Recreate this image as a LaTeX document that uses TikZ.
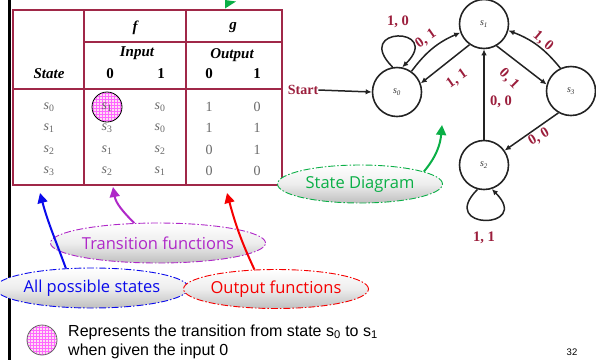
\documentclass[tikz,border=0pt]{standalone}
\usepackage{fontspec}
\setmainfont{Liberation Serif}
\newfontfamily\arialfont{Liberation Sans}
\newfontfamily\handfont{Open Sans}
\usetikzlibrary{shapes.geometric,arrows.meta,patterns}
\definecolor{tblred}{RGB}{160,40,72}
\definecolor{lblred}{RGB}{155,30,60}
\definecolor{sdgreen}{RGB}{10,175,70}
\definecolor{tfpurple}{RGB}{175,40,200}
\definecolor{apblue}{RGB}{10,10,235}
\definecolor{ofred}{RGB}{245,0,0}
\definecolor{edgegray}{RGB}{35,35,35}
\definecolor{cellgray}{RGB}{105,105,105}
\tikzset{
  tblline/.style={draw=tblred, line width=1.8pt},
  head/.style={font=\bfseries\itshape\fontsize{15}{15}\selectfont, inner sep=0pt},
  headnum/.style={font=\bfseries\fontsize{15}{15}\selectfont, inner sep=0pt},
  cell/.style={font=\fontsize{14}{14}\selectfont, text=cellgray, inner sep=0pt},
  state/.style={circle, draw=edgegray, line width=1.6pt, minimum size=49pt, inner sep=0pt,
    font=\itshape\fontsize{10}{10}\selectfont, text=black!80},
  edge/.style={draw=edgegray, line width=1.5pt, -{Latex[length=6pt,width=5.5pt]}},
  lbl/.style={text=lblred, font=\bfseries\fontsize{14.5}{14.5}\selectfont, inner sep=0pt},
  callout/.style={ellipse, draw=#1, dash pattern=on 7pt off 2pt on 1.5pt off 2pt,
    line width=0.9pt, top color=white, bottom color=gray!50, middle color=gray!14,
    text=#1, inner sep=0pt, font=\handfont\fontsize{16.5}{16.5}\selectfont},
  pointer/.style={draw=#1, line width=2pt, -{Triangle[length=10pt,width=10pt]}},
  pinkdot/.style={pattern=grid, pattern color=magenta!60}
}
\begin{document}
\begin{tikzpicture}[x=1pt,y=1pt]
\useasboundingbox (0,0) rectangle (596,-360);

% left margin rule
\draw[line width=3pt] (9,0) -- (9,-360);

% arrow tip entering from above the table
\fill[sdgreen] (225,0) -- (225,-8.5) -- (236,-1.5) -- cycle;

% ---------- state table ----------
\draw[tblline] (13,-10) rectangle (282,-185);
\draw[tblline] (84,-10) -- (84,-185);
\draw[tblline] (186,-10) -- (186,-185);
\draw[tblline] (84,-42) -- (282,-42);
\draw[tblline] (13,-89) -- (282,-89);

\node[head] (hf) at (135,-28) {f};
\node[head] (hg) at (233,-28) {g};
\node[head] (hin) at (137,-53) {Input};
\node[head] (hout) at (232,-55) {Output};
\node[head] (hst) at (49,-74) {State};
\node[headnum] (hi0) at (110,-74) {0};
\node[headnum] (hi1) at (161,-74) {1};
\node[headnum] (ho0) at (209,-74) {0};
\node[headnum] (ho1) at (257,-74) {1};

% highlighted entry f(s0,0)
\fill[magenta!12] (107,-107) circle (15);
\fill[pinkdot] (107,-107) circle (15);
\draw[black, line width=0.8pt] (107,-107) circle (15);

\foreach \r/\y/\a/\b/\c/\d/\e in {0/-107/0/1/0/1/0, 1/-128/1/3/0/1/1,
                                    2/-150/2/1/2/0/1, 3/-171/3/2/1/0/0} {
  \node[cell] (st\r) at (49,\y) {\textit{s}\textsubscript{\a}};
  \node[cell] (fa\r) at (107,\y) {\textit{s}\textsubscript{\b}};
  \node[cell] (fb\r) at (160,\y) {\textit{s}\textsubscript{\c}};
  \node[cell] (ga\r) at (209,\y) {\d};
  \node[cell] (gb\r) at (257,\y) {\e};
}

% ---------- state diagram ----------
\node[state] (s0) at (397,-92) {s\textsubscript{0}};
\node[state] (s1) at (484,-24) {s\textsubscript{1}};
\node[state] (s3) at (571,-91) {s\textsubscript{3}};
\node[state] (s2) at (484,-165) {s\textsubscript{2}};

\node[text=lblred, font=\bfseries\fontsize{14}{14}\selectfont, inner sep=0pt] (start) at (303,-90) {Start};
\draw[edge] (start.east) -- (s0.west);

\draw[edge] (s0.100) .. controls +(135:58) and +(45:58) .. (s0.78);
\draw[edge] (s0.55) to[bend left=15] (s1.200);
\draw[edge] (s1.235) -- (s0.20);
\draw[edge] (s3.115) to[bend right=15] (s1.-15);
\draw[edge] (s1.-60) -- (s3.165);
\draw[edge] (s2.north) -- (s1.south);
\draw[edge] (s3.-120) -- (s2.35);
\draw[edge] (s2.-105) .. controls +(-135:58) and +(-45:58) .. (s2.-72);

\node[lbl] (l00) at (398,-22) {1, 0};
\node[lbl, rotate=35] (l01) at (426,-39) {0, 1};
\node[lbl, rotate=35] (l10) at (457,-79) {1, 1};
\node[lbl, rotate=-40] (l31) at (543,-41) {1, 0};
\node[lbl, rotate=-45] (l13) at (509,-79) {0, 1};
\node[lbl] (l21) at (501,-102) {0, 0};
\node[lbl, rotate=30] (l32) at (539,-137) {0, 0};
\node[lbl] (l22) at (484,-238) {1, 1};

% ---------- callouts ----------
\node[callout=sdgreen, minimum width=165pt, minimum height=38pt] (cd) at (360,-184) {State Diagram};
\node[callout=tfpurple, minimum width=163pt, minimum height=40pt] (ct) at (158,-243) {Transition functions};
\node[callout=apblue, minimum width=163pt, minimum height=40pt] (ca) at (92,-288) {All possible states};
\node[callout=ofred, minimum width=165pt, minimum height=39pt] (co) at (276,-289) {Output functions};

\coordinate (pd) at (442,-125);
\coordinate (pt) at (113,-187);
\coordinate (pa) at (40,-193);
\coordinate (po) at (227,-193);
\draw[pointer=sdgreen] (cd.11) to[out=50, in=-95] (pd);
\draw[pointer=tfpurple] (ct.140) to[out=135, in=-80] (pt);
\draw[pointer=apblue] (ca.143) to[out=110, in=-75] (pa);
\draw[pointer=ofred] (co.138) to[out=115, in=-75] (po);

% ---------- legend ----------
\fill[magenta!12] (42,-340) circle (15);
\fill[pinkdot] (42,-340) circle (15);
\draw[gray!80!black, line width=0.8pt] (42,-340) circle (15);
\node[anchor=west, font=\arialfont\fontsize{16}{16}\selectfont, inner sep=0pt] (leg1) at (68,-332)
  {Represents the transition from state s\textsubscript{0} to s\textsubscript{1}};
\node[anchor=west, font=\arialfont\fontsize{16}{16}\selectfont, inner sep=0pt] (leg2) at (68,-351)
  {when given the input 0};
\node[font=\arialfont\fontsize{9.5}{9.5}\selectfont, inner sep=0pt] (pg) at (572,-352) {32};
\end{tikzpicture}
\end{document}
